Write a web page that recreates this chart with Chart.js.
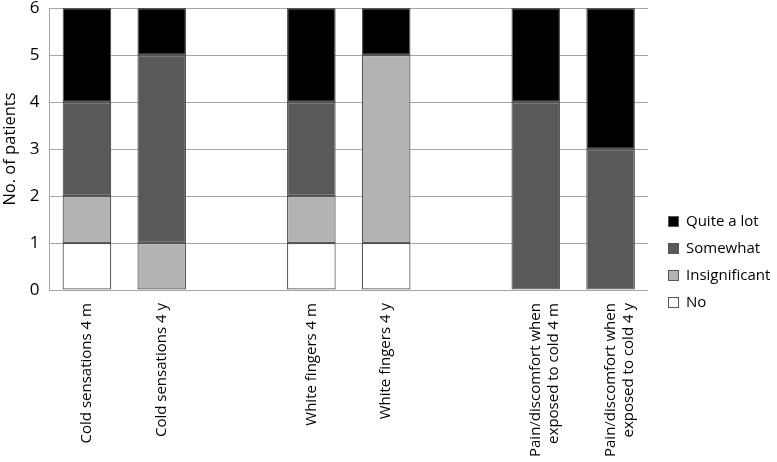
<!DOCTYPE html>
<html>
<head>
<meta charset="utf-8">
<script src="https://cdn.jsdelivr.net/npm/chart.js@4.4.1/dist/chart.umd.min.js"></script>
<style>
  html, body { margin: 0; padding: 0; background: #fff; }
  #wrap { width: 777px; height: 462px; position: relative; }
</style>
</head>
<body>
<div id="wrap"><canvas id="myChart"></canvas></div>
<script>
// categories (empty slots are the gaps between groups)
const categorias = [
	'Cold sensations 4 m',
	'Cold sensations 4 y',
	'',
	'White fingers 4 m',
	'White fingers 4 y',
	'',
	['Pain/discomfort when', 'exposed to cold 4 m'],
	['Pain/discomfort when', 'exposed to cold 4 y']
];

const no = [1, 0, null, 1, 1, null, 0, 0];
const insignificant = [1, 1, null, 1, 4, null, 0, 0];
const somewhat = [2, 4, null, 2, 0, null, 4, 3];
const quiteALot = [2, 1, null, 2, 1, null, 2, 3];

const yTicks = [0, 1, 2, 3, 4, 5, 6];

const fuente = '"Open Sans", Lato, sans-serif';

function serie(label, data, color) {
	return {
		label: label,
		data: data,
		backgroundColor: color,
		borderColor: '#555555',
		// no outline for empty (0) segments
		borderWidth: (c) => (c.raw ? 1.2 : 0),
		borderSkipped: false,
		categoryPercentage: 1,
		barPercentage: 0.65
	};
}

// legend drawn by hand so it sits where the original one is
const leyenda = {
	id: 'leyenda',
	afterDraw(chart) {
		const c = chart.ctx;
		const items = chart.data.datasets.slice().reverse();
		c.save();
		c.font = '15px ' + fuente;
		c.textBaseline = 'middle';
		items.forEach((ds, i) => {
			const y = 222 + i * 27;
			c.fillStyle = ds.backgroundColor;
			c.strokeStyle = '#555555';
			c.lineWidth = 1;
			c.fillRect(668.5, y - 5.5, 10, 10);
			c.strokeRect(668.5, y - 5.5, 10, 10);
			c.fillStyle = '#000';
			c.fillText(ds.label, 686, y);
		});
		c.restore();
	}
};

const ctx = document.getElementById('myChart').getContext('2d');

const myChart = new Chart(ctx, {
	type: 'bar',
	data: {
		labels: categorias,
		datasets: [
			serie('No', no, '#ffffff'),
			serie('Insignificant', insignificant, '#b3b3b3'),
			serie('Somewhat', somewhat, '#595959'),
			serie('Quite a lot', quiteALot, '#000000')
		]
	},
	options: {
		responsive: true,
		maintainAspectRatio: false,
		animation: false,
		layout: { padding: { top: 8, right: 129, left: 0, bottom: 0 } },
		plugins: {
			legend: { display: false },
			tooltip: { enabled: false }
		},
		scales: {
			x: {
				stacked: true,
				grid: { display: false },
				border: { display: false },
				ticks: {
					color: '#000',
					font: { family: fuente, size: 15 },
					minRotation: 90,
					maxRotation: 90,
					autoSkip: false,
					padding: 5
				}
			},
			y: {
				stacked: true,
				min: 0,
				max: 6,
				afterBuildTicks: (axis) => { axis.ticks = yTicks.map(v => ({ value: v })); },
				afterFit: (axis) => { axis.paddingTop = 0; },
				grid: { color: '#a6a6a6', lineWidth: 1, drawTicks: false },
				border: { display: true, color: '#a6a6a6' },
				ticks: {
					color: '#000',
					font: { family: fuente, size: 17 },
					padding: 10
				},
				title: {
					display: true,
					text: 'No. of patients',
					color: '#000',
					font: { family: fuente, size: 16.5 },
					padding: { top: 0, bottom: 0 }
				}
			}
		}
	},
	plugins: [leyenda]
});
</script>
</body>
</html>
